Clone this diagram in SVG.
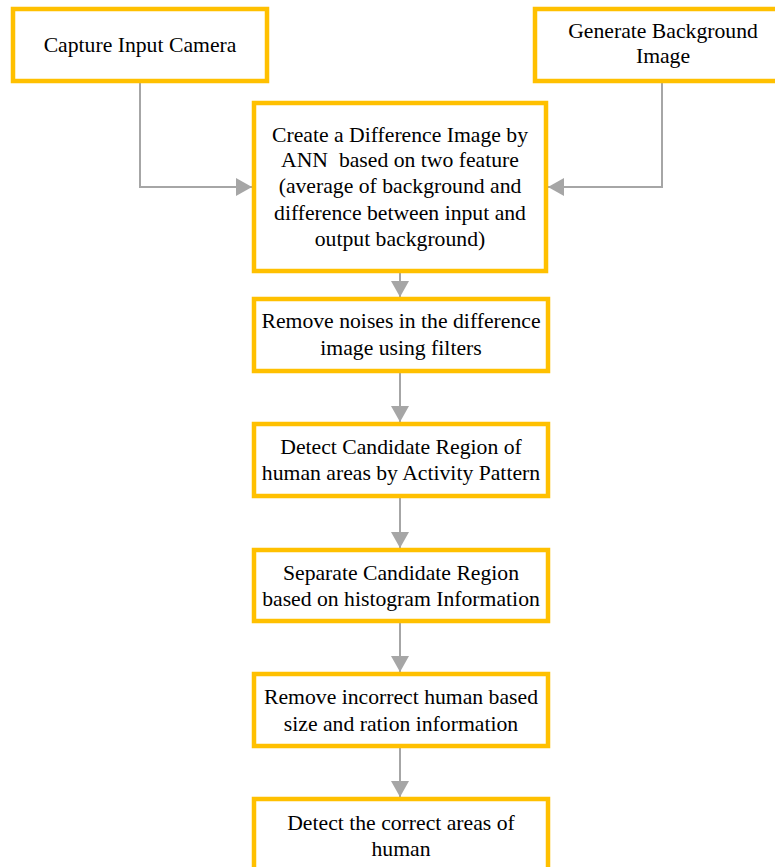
<svg xmlns="http://www.w3.org/2000/svg" width="775" height="867" viewBox="0 0 775 867">
<style>
.box{fill:#fff;stroke:#FFC000;stroke-width:4.5}
.t{font-family:"Liberation Serif","Times New Roman","DejaVu Serif",serif;font-size:21.7px;fill:#000;text-anchor:middle}
.c{fill:none;stroke:#A6A6A6;stroke-width:2}
</style>
<defs>
<marker id="ah" markerUnits="userSpaceOnUse" markerWidth="17" markerHeight="18" refX="16" refY="9" orient="auto">
<path d="M0,0 L16,9 L0,18 Z" fill="#A6A6A6"/>
</marker>
</defs>
<rect width="775" height="867" fill="#fff"/>
<g id="connectors">
<path class="c" d="M140,82 V187 H252" marker-end="url(#ah)"/>
<path class="c" d="M662,82 V187 H548" marker-end="url(#ah)"/>
<path class="c" d="M400,273 V297" marker-end="url(#ah)"/>
<path class="c" d="M400,373 V422" marker-end="url(#ah)"/>
<path class="c" d="M400,498 V548" marker-end="url(#ah)"/>
<path class="c" d="M400,623 V672" marker-end="url(#ah)"/>
<path class="c" d="M400,748 V797" marker-end="url(#ah)"/>
</g>
<g id="n1"><rect class="box" x="13" y="9" width="254" height="72"/><text class="t" x="140" y="52">Capture Input Camera</text></g>
<g id="n2"><rect class="box" x="535" y="9" width="260" height="72"/><text class="t" x="663" y="38">Generate Background</text><text class="t" x="663" y="63">Image</text></g>
<g id="n3"><rect class="box" x="254" y="103" width="292" height="168"/>
<text class="t" x="400" y="142">Create a Difference Image by</text>
<text class="t" x="400" y="167">ANN&#160; based on two feature</text>
<text class="t" x="400" y="193">(average of background and</text>
<text class="t" x="400" y="220">difference between input and</text>
<text class="t" x="400" y="246">output background)</text></g>
<g id="n4"><rect class="box" x="254" y="299" width="294" height="72"/><text class="t" x="401" y="328">Remove noises in the difference</text><text class="t" x="401" y="355">image using filters</text></g>
<g id="n5"><rect class="box" x="254" y="424" width="294" height="72"/><text class="t" x="401" y="454">Detect Candidate Region of</text><text class="t" x="401" y="480">human areas by Activity Pattern</text></g>
<g id="n6"><rect class="box" x="254" y="550" width="294" height="71"/><text class="t" x="401" y="580">Separate Candidate Region</text><text class="t" x="401" y="606">based on histogram Information</text></g>
<g id="n7"><rect class="box" x="254" y="674" width="294" height="72"/><text class="t" x="401" y="704">Remove incorrect human based</text><text class="t" x="401" y="731">size and ration information</text></g>
<g id="n8"><rect class="box" x="254" y="799" width="294" height="80"/><text class="t" x="401" y="830">Detect the correct areas of</text><text class="t" x="401" y="856">human</text></g>
</svg>
